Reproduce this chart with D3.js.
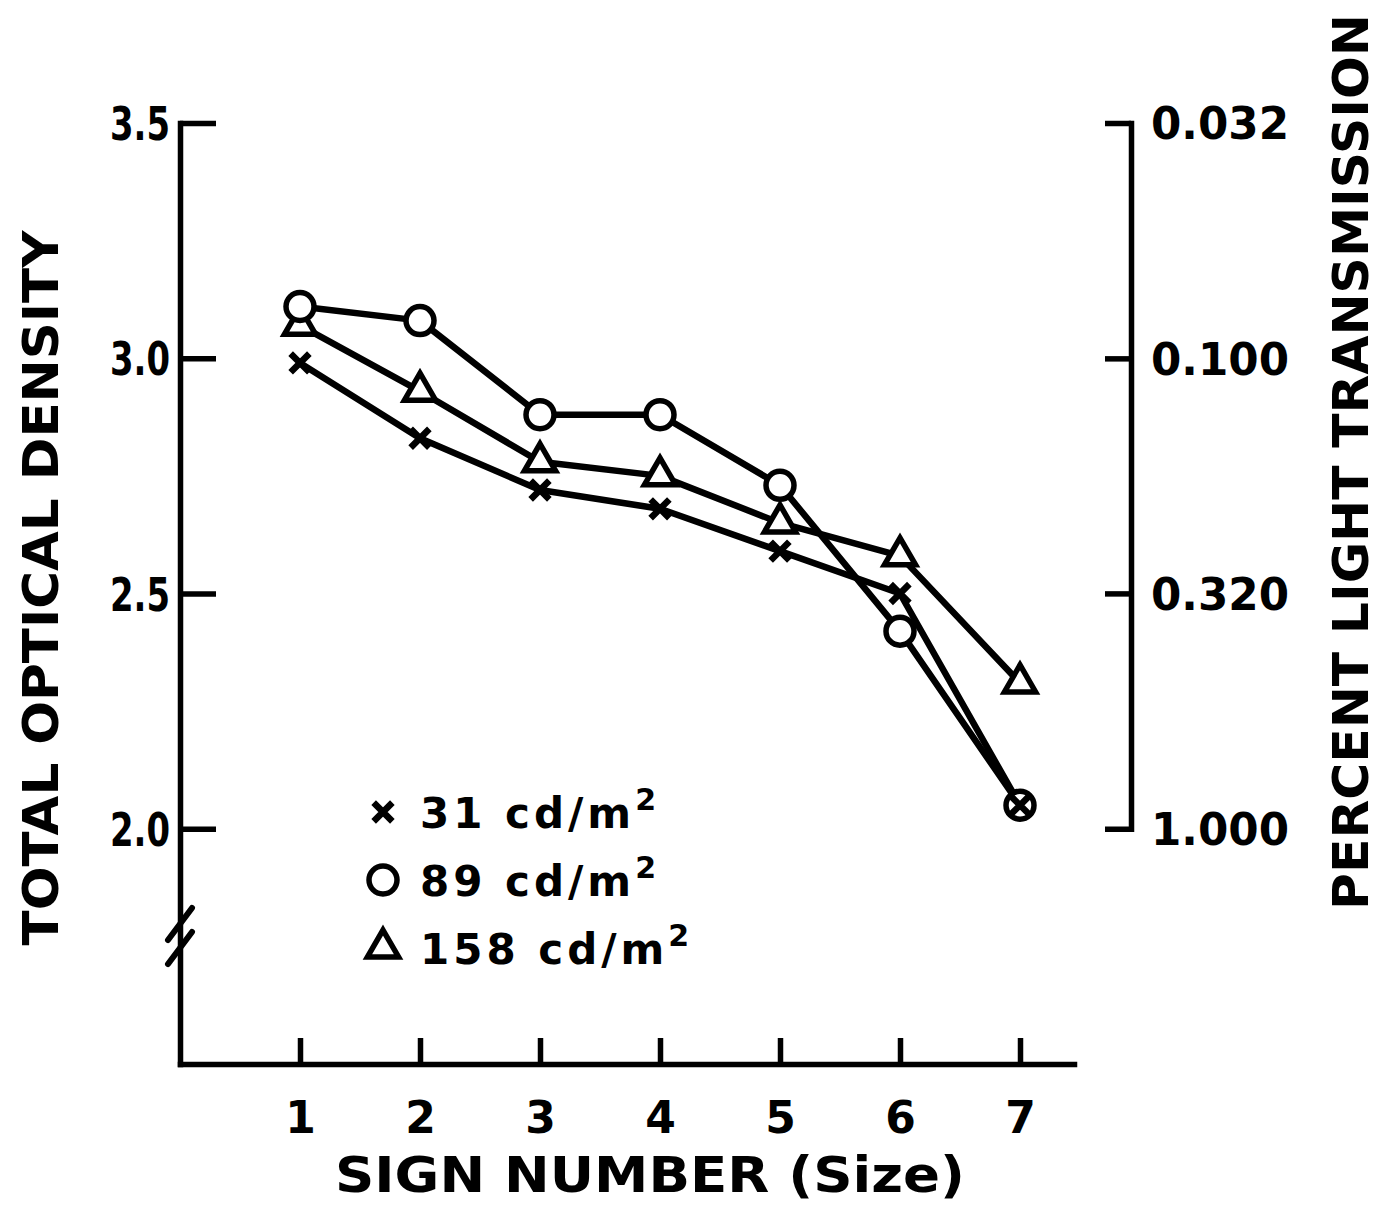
<!DOCTYPE html>
<html>
<head>
<meta charset="utf-8">
<script src="https://cdn.jsdelivr.net/npm/d3@7"></script>
<style>
  body { margin: 0; background: #fff; }
  svg { display: block; }
  .lbl { font-family: "DejaVu Sans", sans-serif; font-weight: bold; fill: #000; }
</style>
</head>
<body>
<svg id="chart" width="1379" height="1206"></svg>
<script>
// sign numbers on the x axis
const signs = [1, 2, 3, 4, 5, 6, 7];

// total optical density per sign, one array per background luminance
const density31 = [2.99, 2.83, 2.72, 2.68, 2.59, 2.50, 2.05];
const density89 = [3.11, 3.08, 2.88, 2.88, 2.73, 2.42, 2.05];
const density158 = [3.07, 2.93, 2.78, 2.75, 2.65, 2.58, 2.31];

const seriesNames = ['31', '89', '158'];

const densityTicks = [2.0, 2.5, 3.0, 3.5];
const transmissionTicks = [1.0, 0.316, 0.1, 0.0316];
const transmissionLabels = ['1.000', '0.320', '0.100', '0.032'];

const svg = d3.select('#chart');

const x = d3.scaleLinear().domain([0, 7.45]).range([180, 1074]);
const y = d3.scaleLinear().domain([1.5, 3.5]).range([1064, 123]);
// percent transmission = 100 * 10^-D, so it is a log axis on the same pixels
const yT = d3.scaleLog().domain([1, 0.0316]).range([y(2), y(3.5)]);

const axisStroke = 5.5;

function styleAxis(g) {
  g.select('.domain').attr('stroke', '#000').attr('stroke-width', axisStroke).attr('stroke-linecap', 'square');
  g.selectAll('.tick line').attr('stroke', '#000').attr('stroke-width', axisStroke);
  g.selectAll('.tick text').attr('class', 'lbl').attr('fill', '#000');
}

// left axis, ticks pointing inward
svg.append('g')
  .attr('transform', `translate(${x(0)},0)`)
  .call(d3.axisLeft(y).tickValues(densityTicks).tickFormat(d3.format('.1f'))
    .tickSizeInner(-36).tickSizeOuter(0).tickPadding(10))
  .call(styleAxis)
  .call(g => g.selectAll('.tick text')
    .attr('font-size', 46).attr('textLength', 60).attr('lengthAdjust', 'spacingAndGlyphs')
    .attr('dy', '0.36em'));

// right axis
svg.append('g')
  .attr('transform', 'translate(1131,0)')
  .call(d3.axisRight(yT).tickValues(transmissionTicks)
    .tickFormat((d, i) => transmissionLabels[i])
    .tickSizeInner(-26).tickSizeOuter(0).tickPadding(20))
  .call(styleAxis)
  .call(g => g.selectAll('.tick text')
    .attr('font-size', 44).attr('textLength', 138).attr('lengthAdjust', 'spacingAndGlyphs')
    .attr('dy', '0.36em'));

// bottom axis
svg.append('g')
  .attr('transform', `translate(0,${y(1.5)})`)
  .call(d3.axisBottom(x).tickValues(signs).tickFormat(d3.format('d'))
    .tickSizeInner(-26).tickSizeOuter(0).tickPadding(38))
  .call(styleAxis)
  .call(g => g.selectAll('.tick text').attr('font-size', 44).attr('dy', '0.71em'));

// axis break on the left axis
const brk = svg.append('g').attr('stroke', '#000').attr('stroke-width', 6).attr('stroke-linecap', 'round');
[0, 24].forEach(off => {
  brk.append('line')
    .attr('x1', x(0) - 12).attr('y1', 940 + off)
    .attr('x2', x(0) + 12).attr('y2', 908 + off);
});

// lines
const line = d3.line().x((d, i) => x(signs[i])).y(d => y(d));
[density31, density158, density89].forEach(s => {
  svg.append('path').datum(s)
    .attr('d', line)
    .attr('fill', 'none').attr('stroke', '#000').attr('stroke-width', 6.5)
    .attr('stroke-linejoin', 'round');
});

const tri = d3.symbol().type(d3.symbolTriangle).size(420);
const circ = d3.symbol().type(d3.symbolCircle).size(Math.PI * 14 * 14);
const cross = d3.symbol().type(d3.symbolX).size(230);

function markers(data, sym, sw) {
  svg.append('g').selectAll('path').data(data).join('path')
    .attr('transform', (d, i) => `translate(${x(signs[i])},${y(d)})`)
    .attr('d', sym)
    .attr('fill', '#fff').attr('stroke', '#000').attr('stroke-width', sw)
    .attr('stroke-linejoin', 'miter');
}
markers(density158, tri, 5.5);
markers(density89, circ, 5.5);
markers(density31, cross, 6.5);

// legend
const legendRows = [cross, circ, tri];
legendRows.forEach((sym, i) => {
  const cy = 812 + i * 68;
  svg.append('path')
    .attr('transform', `translate(383,${cy})`)
    .attr('d', sym)
    .attr('fill', '#fff').attr('stroke', '#000').attr('stroke-width', i === 0 ? 6.5 : 5.5);
  const t = svg.append('text').attr('class', 'lbl')
    .attr('x', 420).attr('y', cy + 16)
    .attr('font-size', 42).attr('letter-spacing', 4);
  t.append('tspan').text(`${seriesNames[i]} cd/m`);
  t.append('tspan').attr('font-size', 30).attr('dy', -18).text('2');
});

// axis titles
svg.append('text').attr('class', 'lbl')
  .attr('transform', 'translate(58,588) rotate(-90)')
  .attr('text-anchor', 'middle').attr('font-size', 50)
  .attr('textLength', 715).attr('lengthAdjust', 'spacingAndGlyphs')
  .text('TOTAL OPTICAL DENSITY');

svg.append('text').attr('class', 'lbl')
  .attr('transform', 'translate(1368,462) rotate(-90)')
  .attr('text-anchor', 'middle').attr('font-size', 50)
  .attr('textLength', 896).attr('lengthAdjust', 'spacingAndGlyphs')
  .text('PERCENT LIGHT TRANSMISSION');

svg.append('text').attr('class', 'lbl')
  .attr('x', 650).attr('y', 1192)
  .attr('text-anchor', 'middle').attr('font-size', 50)
  .attr('textLength', 630).attr('lengthAdjust', 'spacingAndGlyphs')
  .text('SIGN NUMBER (Size)');
</script>
</body>
</html>
